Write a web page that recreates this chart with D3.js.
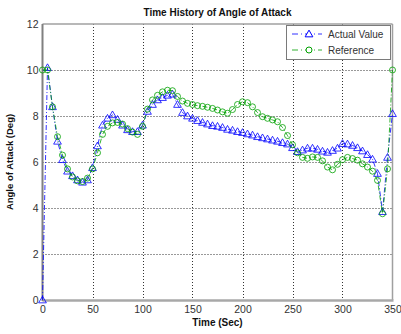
<!DOCTYPE html>
<html><head><meta charset="utf-8">
<script src="https://cdn.jsdelivr.net/npm/d3@7"></script>
<style>body{margin:0;background:#fff}svg{display:block}text{font-family:"Liberation Sans",Arial,sans-serif}</style>
</head><body>
<script>
const times = d3.range(0, 351, 5);
const actualValues = [0,10.1,8.4,6.9,6.1,5.6,5.4,5.22,5.12,5.22,5.75,6.7,7.6,7.9,8.05,7.85,7.6,7.4,7.32,7.32,7.6,8.2,8.5,8.7,8.8,8.9,8.95,8.5,8.15,8.0,7.9,7.8,7.72,7.65,7.58,7.55,7.5,7.42,7.38,7.32,7.28,7.22,7.17,7.1,7.05,7.0,6.95,6.9,6.84,6.78,6.62,6.45,6.52,6.6,6.6,6.55,6.47,6.42,6.5,6.6,6.8,6.78,6.72,6.62,6.48,6.32,6.12,5.5,3.84,6.2,8.1];
const referenceValues = [10,10,8.4,7.1,6.3,5.7,5.35,5.18,5.15,5.3,5.7,6.4,7.2,7.55,7.7,7.72,7.65,7.45,7.3,7.2,7.55,8.3,8.7,8.9,9.05,9.12,9.1,8.85,8.65,8.55,8.5,8.45,8.42,8.38,8.33,8.26,8.18,8.12,8.28,8.5,8.62,8.58,8.4,8.15,7.97,7.9,7.83,7.75,7.5,7.15,6.75,6.4,6.2,6.16,6.22,6.2,6.05,5.78,5.66,5.9,6.1,6.2,6.15,6.08,5.92,5.78,5.6,5.2,3.75,5.7,10];
const xTicks = [0,50,100,150,200,250,300,350];
const yTicks = [0,2,4,6,8,10,12];
const seriesNames = ["Actual Value","Reference"];

const W=401,H=334;
const L=42.5,R=392.5,T=24,B=300;
const svg=d3.select("body").append("svg").attr("width",W).attr("height",H);
const x=d3.scaleLinear().domain([0,350]).range([L,R]);
const y=d3.scaleLinear().domain([0,12]).range([B,T]);
const blue="#0000ff", green="#00a000";

svg.append("rect").attr("x",L).attr("y",T).attr("width",R-L).attr("height",B-T).attr("fill","#fff");

// grid
const g=svg.append("g");
g.selectAll(".gx").data(xTicks.slice(1,-1)).join("line")
 .attr("x1",d=>Math.round(x(d))+0.5).attr("x2",d=>Math.round(x(d))+0.5).attr("y1",T).attr("y2",B)
 .attr("stroke","#333").attr("stroke-width",1).attr("stroke-dasharray","1,2");
g.selectAll(".gy").data(yTicks.slice(1,-1)).join("line")
 .attr("y1",d=>Math.round(y(d))+0.5).attr("y2",d=>Math.round(y(d))+0.5).attr("x1",L).attr("x2",R)
 .attr("stroke","#333").attr("stroke-width",1).attr("stroke-dasharray","1,2");

// axes via d3
const xAxis=svg.append("g").attr("transform",`translate(0,${B})`)
 .call(d3.axisBottom(x).tickValues(xTicks).tickSize(0).tickPadding(6));
const yAxis=svg.append("g").attr("transform",`translate(${L},0)`)
 .call(d3.axisLeft(y).tickValues(yTicks).tickSize(0).tickPadding(4));
[xAxis,yAxis].forEach(a=>{a.select(".domain").remove();
 a.selectAll("text").attr("fill","#333").style("font-size","10.5px").style("font-family","'Liberation Sans',Arial,sans-serif");});

// frame
svg.append("line").attr("x1",L).attr("x2",R).attr("y1",T).attr("y2",T).attr("stroke","#a0a0a0").attr("stroke-width",1.5);
svg.append("line").attr("x1",R).attr("x2",R).attr("y1",T).attr("y2",B).attr("stroke","#a0a0a0").attr("stroke-width",1.5);
svg.append("line").attr("x1",L).attr("x2",R+1).attr("y1",B+0.5).attr("y2",B+0.5).attr("stroke","#a8a8a8").attr("stroke-width",2.5);
svg.append("line").attr("x1",L).attr("x2",L).attr("y1",T).attr("y2",B+1).attr("stroke","#808080").attr("stroke-width",2);

const line=d3.line().x((d,i)=>x(times[i])).y(d=>y(d));
const tri=d3.symbol().type(d3.symbolTriangle).size(26);
function drawSeries(vals,color,marker){
  const gg=svg.append("g");
  gg.append("path").attr("d",line(vals)).attr("fill","none").attr("stroke",color).attr("stroke-width",1).attr("stroke-dasharray","5,2,1,2").attr("opacity",0.8);
  if(marker==="tri"){
    gg.selectAll("path.m").data(vals).join("path").attr("class","m").attr("d",tri)
     .attr("transform",(d,i)=>`translate(${x(times[i])},${y(d)+0.6})`).attr("fill","none").attr("stroke",color).attr("stroke-width",1).attr("opacity",0.8);
  } else {
    gg.selectAll("circle").data(vals).join("circle").attr("cx",(d,i)=>x(times[i])).attr("cy",d=>y(d)).attr("r",3)
     .attr("fill","none").attr("stroke",color).attr("stroke-width",1).attr("opacity",0.8);
  }
}
drawSeries(actualValues,blue,"tri");
drawSeries(referenceValues,green,"circ");

// legend
const lg=svg.append("g");
lg.append("rect").attr("x",286.5).attr("y",25.5).attr("width",104).attr("height",34).attr("fill","#fff").attr("stroke","#7a7a7a").attr("stroke-width",1);
const ly=[34,50];
[[blue,"tri"],[green,"circ"]].forEach(([c,m],i)=>{
  lg.append("line").attr("x1",292).attr("x2",322).attr("y1",ly[i]).attr("y2",ly[i]).attr("stroke",c).attr("stroke-dasharray","6,3,1,3").attr("opacity",0.8);
  if(m==="tri") lg.append("path").attr("d",tri).attr("transform",`translate(309,${ly[i]+0.6})`).attr("fill","#fff").attr("stroke",c);
  else lg.append("circle").attr("cx",309).attr("cy",ly[i]).attr("r",3).attr("fill","#fff").attr("stroke",c);
  lg.append("text").attr("x",328).attr("y",ly[i]+3.5).attr("fill","#333").style("font-size","10px").text(seriesNames[i]);
});

// titles
svg.append("text").attr("x",(L+R)/2).attr("y",16).attr("text-anchor","middle").style("font-size","10px").style("font-weight","bold").attr("fill","#111").text("Time History of Angle of Attack");
svg.append("text").attr("x",(L+R)/2).attr("y",326).attr("text-anchor","middle").style("font-size","10px").style("font-weight","bold").attr("fill","#111").text("Time (Sec)");
svg.append("text").attr("transform",`translate(13,${(T+B)/2}) rotate(-90)`).attr("text-anchor","middle").style("font-size","9.5px").style("font-weight","bold").attr("fill","#111").text("Angle of Attack (Deg)");
</script>
</body></html>
